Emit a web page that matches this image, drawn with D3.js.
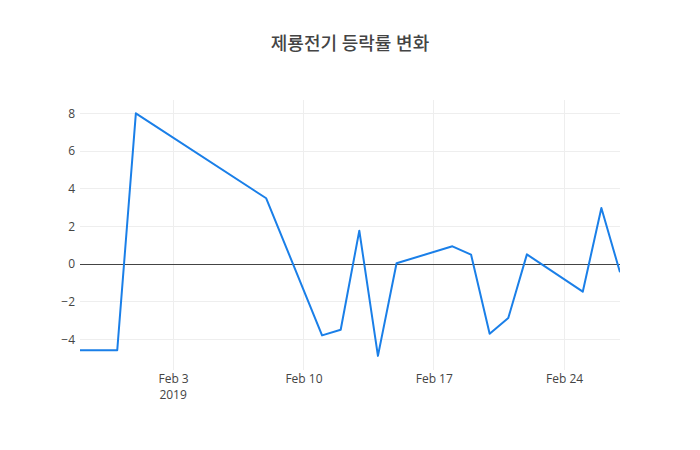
<!DOCTYPE html>
<html>
<head>
<meta charset="utf-8">
<script src="https://cdn.jsdelivr.net/npm/d3@7"></script>
<style>
  body { margin: 0; background: #fff; }
  svg { font-family: "Open Sans", "Noto Sans CJK KR", sans-serif; }
</style>
</head>
<body>
<div id="chart"></div>
<script>
// 제룡전기 daily change (%)
const dates = [
  "2019-01-29", "2019-01-31", "2019-02-01", "2019-02-08", "2019-02-11",
  "2019-02-12", "2019-02-13", "2019-02-14", "2019-02-15", "2019-02-18",
  "2019-02-19", "2019-02-20", "2019-02-21", "2019-02-22", "2019-02-25",
  "2019-02-26", "2019-02-27"
];
const changes = [
  -4.58, -4.58, 8.0, 3.49, -3.79,
  -3.49, 1.77, -4.88, 0.04, 0.94,
  0.5, -3.7, -2.87, 0.51, -1.47,
  2.97, -0.44
];
const yTicks = [-4, -2, 0, 2, 4, 6, 8];
const xTicks = ["2019-02-03", "2019-02-10", "2019-02-17", "2019-02-24"];
const title = "제룡전기 등락률 변화";

const width = 700;
const height = 450;
const margin = { top: 100, right: 80, bottom: 80, left: 80 };

const parse = d3.timeParse("%Y-%m-%d");
const data = dates.map((d, i) => ({ date: parse(d), value: changes[i] }));

const svg = d3.select("#chart")
  .append("svg")
  .attr("width", width)
  .attr("height", height);

const x = d3.scaleTime()
  .domain(d3.extent(data, d => d.date))
  .range([margin.left, width - margin.right]);

const y = d3.scaleLinear()
  .domain([-5.63, 8.71])
  .range([height - margin.bottom, margin.top]);

// grid
svg.append("g")
  .attr("shape-rendering", "crispEdges")
  .selectAll("line")
  .data(xTicks.map(parse))
  .join("line")
  .attr("x1", d => x(d)).attr("x2", d => x(d))
  .attr("y1", margin.top).attr("y2", height - margin.bottom)
  .attr("stroke", "#eee");

svg.append("g")
  .attr("shape-rendering", "crispEdges")
  .selectAll("line")
  .data(yTicks.filter(d => d !== 0))
  .join("line")
  .attr("x1", margin.left).attr("x2", width - margin.right)
  .attr("y1", d => y(d)).attr("y2", d => y(d))
  .attr("stroke", "#eee");

// zero line
svg.append("line")
  .attr("shape-rendering", "crispEdges")
  .attr("x1", margin.left).attr("x2", width - margin.right)
  .attr("y1", Math.round(y(0)) + 0.5).attr("y2", Math.round(y(0)) + 0.5)
  .attr("stroke", "#444");

const yAxis = g => {
  g.attr("transform", `translate(${margin.left - 2},0)`)
    .call(d3.axisLeft(y).tickValues(yTicks).tickSize(0).tickPadding(3)
      .tickFormat(d => d < 0 ? "\u2212" + Math.abs(d) : d))
    .call(g => g.select(".domain").remove())
    .attr("font-size", 12)
    .attr("font-family", null)
    .selectAll("text").attr("fill", "#444");
};

const xAxis = g => {
  g.attr("transform", `translate(0,${height - margin.bottom})`)
    .call(d3.axisBottom(x).tickValues(xTicks.map(parse)).tickSize(0).tickPadding(4)
      .tickFormat(d3.timeFormat("%b %-d")))
    .call(g => g.select(".domain").remove())
    .attr("font-size", 12)
    .attr("font-family", null)
    .selectAll("text").attr("fill", "#444");
};

svg.append("g").call(yAxis);
svg.append("g").call(xAxis);

// year label under first tick
svg.append("text")
  .attr("x", x(parse(xTicks[0])))
  .attr("y", height - margin.bottom + 29)
  .attr("text-anchor", "middle")
  .attr("font-size", 12)
  .attr("fill", "#444")
  .text("2019");

const line = d3.line()
  .x(d => x(d.date))
  .y(d => y(d.value));

svg.append("defs").append("clipPath").attr("id", "clip")
  .append("rect")
  .attr("x", margin.left).attr("y", margin.top)
  .attr("width", width - margin.left - margin.right)
  .attr("height", height - margin.top - margin.bottom);

svg.append("path")
  .datum(data)
  .attr("clip-path", "url(#clip)")
  .attr("fill", "none")
  .attr("stroke", "#1a7fe8")
  .attr("stroke-width", 2)
  .attr("stroke-linejoin", "round")
  .attr("d", line);

svg.append("text")
  .attr("x", width / 2)
  .attr("y", 50)
  .attr("text-anchor", "middle")
  .attr("font-size", 18)
  .attr("font-weight", 500)
  .attr("fill", "#444")
  .text(title);
</script>
</body>
</html>
